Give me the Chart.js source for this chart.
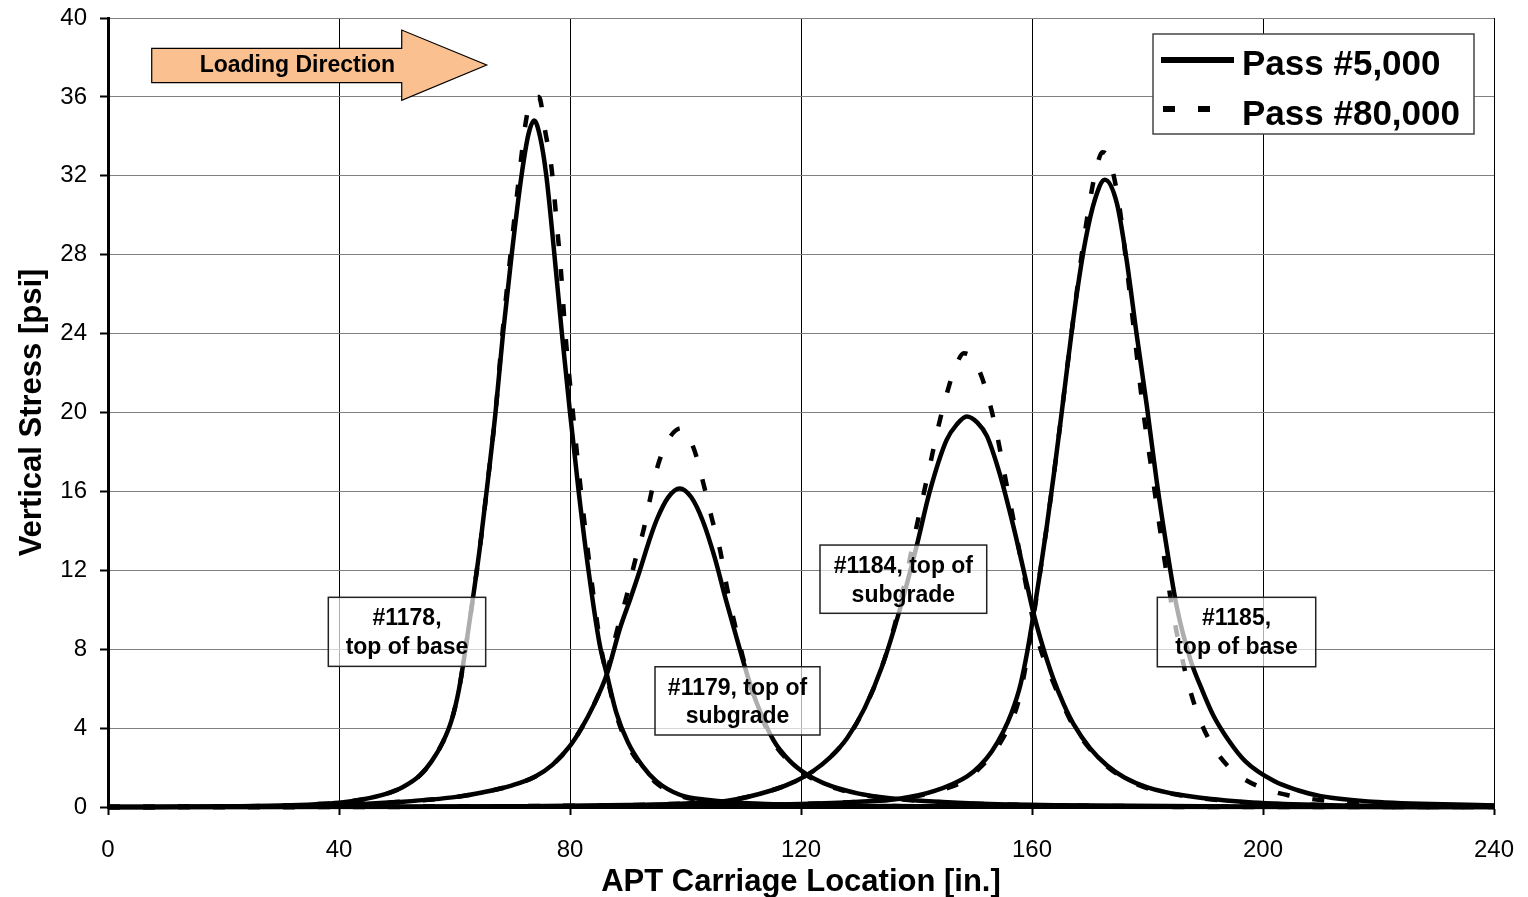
<!DOCTYPE html>
<html>
<head>
<meta charset="utf-8">
<script src="https://cdn.jsdelivr.net/npm/chart.js@4.4.0/dist/chart.umd.min.js"></script>
<style>
html,body{margin:0;padding:0;background:#fff;}
#wrap{width:1528px;height:897px;position:relative;}
</style>
</head>
<body>
<div id="wrap"><canvas id="c" width="1528" height="897"></canvas></div>
<script>
// ---------------- DATA ----------------
const xTickValues = [0, 40, 80, 120, 160, 200, 240];
const yTickValues = [0, 4, 8, 12, 16, 20, 24, 28, 32, 36, 40];
const seriesNames = ['Pass #5,000', 'Pass #80,000'];
const gaugeNotes = [['#1178,', 'top of base'], ['#1179, top of', 'subgrade'], ['#1184, top of', 'subgrade'], ['#1185,', 'top of base']];
const arrowText = 'Loading Direction';

// #1178, top of base
const g1178_5k_x = [0, 20, 30, 36, 40, 44, 48, 51, 54, 56, 58, 59.5, 60.8, 62, 63.2, 64.5, 65.8, 67.1, 68.4, 69.9, 71.6, 72.8, 73.8, 74.8, 75.9, 77.3, 78.6, 80.0, 81.5, 83.2, 85.1, 86.4, 88.0, 90.0, 92.5, 95, 99, 104, 110, 120, 140, 170, 240];
const g1178_5k_y = [0, 0.02, 0.07, 0.14, 0.22, 0.38, 0.65, 1.0, 1.6, 2.3, 3.3, 4.4, 6.0, 8.2, 10.6, 13.4, 16.6, 20.0, 24, 28, 32, 34.1, 34.8, 34.0, 32, 28, 24, 20, 16, 12, 8.3, 6.7, 4.8, 3.3, 2.1, 1.3, 0.62, 0.35, 0.2, 0.1, 0.04, 0.01, 0];
const g1178_80k_x = [0, 20, 30, 36, 40, 44, 48, 51, 54, 56, 58, 59.5, 60.8, 62, 63.2, 64.5, 65.8, 67.1, 68.3, 69.7, 71.2, 72.5, 73.6, 74.6, 75.8, 76.8, 77.7, 78.4, 79.2, 80.5, 81.9, 83.5, 85.3, 86.5, 88.1, 90.1, 92.6, 95, 99, 104, 110, 120, 140, 170, 240];
const g1178_80k_y = [0, 0.02, 0.07, 0.14, 0.22, 0.38, 0.65, 1.0, 1.6, 2.3, 3.3, 4.4, 6.0, 8.2, 10.6, 13.4, 16.6, 20.0, 24, 28, 32, 35.0, 35.9, 36.0, 34.1, 32.4, 29.6, 27.3, 24, 20, 16, 12, 8.2, 6.5, 4.6, 3.1, 2.0, 1.2, 0.57, 0.3, 0.18, 0.09, 0.04, 0.01, 0];

// #1179, top of subgrade
const g1179_5k_x = [0, 20, 40, 50, 60, 65, 70, 74, 77, 80, 82, 84, 86.35, 88.7, 90.5, 92.1, 93.6, 95.0, 97, 99.0, 101, 103, 105, 107, 109.4, 110.9, 112.3, 115.2, 118, 121, 124, 127, 130, 134, 140, 150, 165, 200, 240];
const g1179_5k_y = [0, 0.02, 0.1, 0.25, 0.5, 0.75, 1.1, 1.55, 2.15, 3.1, 4.0, 5.1, 6.7, 9.1, 10.6, 12.0, 13.4, 14.55, 15.7, 16.15, 15.7, 14.5, 12.7, 10.5, 8.0, 6.5, 5.3, 3.4, 2.35, 1.65, 1.2, 0.9, 0.68, 0.5, 0.33, 0.18, 0.09, 0.02, 0];
const g1179_80k_x = [0, 20, 40, 50, 60, 65, 70, 74, 77, 80, 82, 84, 86.35, 88.1, 89.8, 91.2, 92.7, 94.0, 95.3, 97.2, 99.2, 101.4, 103.1, 104.5, 106.0, 107.1, 108.3, 109.7, 111, 112.3, 115.2, 118, 121, 124, 127, 130, 134, 140, 150, 165, 200, 240];
const g1179_80k_y = [0, 0.02, 0.1, 0.25, 0.5, 0.75, 1.1, 1.55, 2.15, 3.1, 4.0, 5.1, 6.8, 8.9, 10.7, 12.4, 14.0, 15.8, 17.4, 18.7, 19.2, 18.2, 16.4, 14.7, 13.0, 11.25, 9.56, 7.87, 6.4, 5.2, 3.3, 2.3, 1.6, 1.15, 0.86, 0.65, 0.48, 0.32, 0.17, 0.08, 0.02, 0];

// #1184, top of subgrade
const g1184_5k_x = [0, 40, 70, 90, 100, 107, 115, 119, 122, 125, 128, 131, 134, 137.1, 140.0, 142.3, 145.2, 147, 148.7, 150.5, 152.2, 154.5, 156.8, 159.1, 160.2, 161.5, 163.7, 165.5, 167.2, 170, 173, 176, 180, 185.6, 197, 210, 240];
const g1184_5k_y = [0, 0.01, 0.04, 0.1, 0.18, 0.3, 0.85, 1.3, 1.8, 2.5, 3.5, 5.0, 7.1, 10.0, 13.2, 16.0, 18.6, 19.4, 19.8, 19.5, 18.8, 16.8, 14.2, 11.3, 9.9, 8.5, 6.5, 5.2, 4.2, 3.0, 2.1, 1.5, 1.0, 0.62, 0.25, 0.1, 0.02];
const g1184_80k_x = [0, 40, 70, 90, 100, 107, 115, 119, 122, 125, 128, 131, 134, 136.2, 138.2, 140.0, 141.4, 142.6, 143.8, 145.2, 146.6, 148.2, 149.6, 151.3, 153.0, 154.2, 155.3, 156.5, 157.6, 158.8, 159.8, 161.1, 162.3, 163.7, 165.5, 167.2, 170, 173, 176, 180, 185.6, 197, 210, 240];
const g1184_80k_y = [0, 0.01, 0.04, 0.1, 0.18, 0.3, 0.85, 1.3, 1.8, 2.5, 3.5, 5.0, 7.1, 9.2, 11.7, 14.2, 16.1, 17.7, 19.3, 20.9, 22.2, 23.0, 22.8, 21.8, 20.1, 18.5, 16.8, 15.0, 13.3, 11.5, 10.0, 8.4, 7.3, 6.3, 5.1, 4.1, 2.95, 2.05, 1.45, 0.95, 0.6, 0.23, 0.1, 0.02];

// #1185, top of base
const g1185_5k_x = [0, 60, 100, 120, 130, 137, 143, 148.7, 151, 153, 155, 156.5, 158, 159.2, 160.2, 161.3, 162.5, 163.8, 165.1, 166.4, 167.8, 169.3, 170.9, 172.6, 174.7, 176.4, 178.1, 179.9, 181.6, 183.3, 185.1, 187.4, 189.5, 191.4, 194, 197, 202, 206, 210, 220, 240];
const g1185_5k_y = [0, 0.01, 0.05, 0.15, 0.27, 0.42, 0.8, 1.54, 2.1, 2.8, 3.8, 4.8, 6.2, 7.9, 9.65, 11.7, 14.1, 16.9, 19.9, 23.0, 26.1, 28.8, 30.8, 31.8, 30.6, 27.7, 24.0, 20.3, 16.5, 13.2, 10.1, 7.5, 5.9, 4.64, 3.4, 2.3, 1.3, 0.85, 0.55, 0.25, 0.08];
const g1185_80k_x = [0, 60, 100, 120, 130, 137, 143, 148.7, 151, 153, 154.8, 156.2, 157.4, 158.5, 159.5, 160.4, 161.4, 162.5, 163.8, 165.1, 166.4, 167.7, 168.9, 169.9, 171, 172.2, 173.3, 174.3, 175.3, 176.4, 177.8, 179.3, 181, 182.5, 183.6, 184.5, 185.8, 187.1, 189.1, 191.7, 194, 196, 200, 204, 208, 215, 240];
const g1185_80k_y = [0, 0.01, 0.05, 0.15, 0.27, 0.42, 0.75, 1.4, 2.0, 2.6, 3.4, 4.2, 5.1, 6.5, 8.2, 9.9, 11.9, 14.1, 16.9, 19.9, 23.0, 26.0, 28.6, 30.5, 32.2, 33.2, 32.9, 31.8, 30.1, 27.4, 23.8, 20.0, 16.5, 13.4, 11.3, 9.7, 7.8, 6.2, 4.4, 2.9, 2.05, 1.55, 0.95, 0.62, 0.42, 0.22, 0.06];

// ---------------- LAYOUT / STYLE ----------------
const FONT = "'Liberation Sans', Arial, Helvetica, sans-serif";
const DASH = [12, 23];
const LINE_W = 4.5;

// annotation boxes, in axis units
const noteBoxes = [
  {x0: 38.15, x1: 65.40, yTop: 10.63, yBot: 7.13},
  {x0: 94.72, x1: 123.29, yTop: 7.11, yBot: 3.65},
  {x0: 123.29, x1: 152.16, yTop: 13.28, yBot: 9.82},
  {x0: 181.70, x1: 209.13, yTop: 10.63, yBot: 7.11}
];
// loading arrow, in axis units
const arrowShape = {x0: 7.57, headX: 50.86, tipX: 65.57, bodyTop: 38.46, bodyBot: 36.72, headTop: 39.39, headBot: 35.83, tipY: 37.62, textX: 32.8, textY: 37.28};

function pts(xs, ys) { return xs.map((v, i) => ({x: v, y: ys[i]})); }

const seriesDefs = [
  [g1178_5k_x, g1178_5k_y, 0], [g1179_5k_x, g1179_5k_y, 0], [g1184_5k_x, g1184_5k_y, 0], [g1185_5k_x, g1185_5k_y, 0],
  [g1178_80k_x, g1178_80k_y, 1], [g1179_80k_x, g1179_80k_y, 1], [g1184_80k_x, g1184_80k_y, 1], [g1185_80k_x, g1185_80k_y, 1]
];

const datasets = seriesDefs.map(([xs, ys, k]) => ({
  label: seriesNames[k],
  data: pts(xs, ys),
  borderColor: '#000',
  backgroundColor: '#000',
  borderWidth: LINE_W,
  borderDash: k === 1 ? DASH : [],
  borderCapStyle: 'butt',
  borderJoinStyle: 'round',
  pointRadius: 0,
  fill: false,
  cubicInterpolationMode: 'monotone',
  clip: false
}));

const overlay = {
  id: 'overlay',
  afterDatasetsDraw(chart) {
    const {ctx, chartArea, scales: {x, y}} = chart;
    const px = v => x.getPixelForValue(v), py = v => y.getPixelForValue(v);
    ctx.save();

    // gauge boxes
    noteBoxes.forEach((b, i) => {
      const l = px(b.x0), r = px(b.x1), t = py(b.yTop), bt = py(b.yBot);
      ctx.fillStyle = 'rgba(255,255,255,0.68)';
      ctx.fillRect(l, t, r - l, bt - t);
      ctx.strokeStyle = '#222';
      ctx.lineWidth = 1.5;
      ctx.strokeRect(l, t, r - l, bt - t);
      ctx.fillStyle = '#000';
      ctx.font = 'bold 23px ' + FONT;
      ctx.textAlign = 'center';
      ctx.textBaseline = 'alphabetic';
      const cx = (l + r) / 2;
      ctx.fillText(gaugeNotes[i][0], cx, t + 28);
      ctx.fillText(gaugeNotes[i][1], cx, t + 56.5);
    });

    // arrow
    const A = arrowShape;
    ctx.beginPath();
    ctx.moveTo(px(A.x0), py(A.bodyTop));
    ctx.lineTo(px(A.headX), py(A.bodyTop));
    ctx.lineTo(px(A.headX), py(A.headTop));
    ctx.lineTo(px(A.tipX), py(A.tipY));
    ctx.lineTo(px(A.headX), py(A.headBot));
    ctx.lineTo(px(A.headX), py(A.bodyBot));
    ctx.lineTo(px(A.x0), py(A.bodyBot));
    ctx.closePath();
    ctx.fillStyle = '#FAC090';
    ctx.fill();
    ctx.strokeStyle = '#000';
    ctx.lineWidth = 1.2;
    ctx.stroke();
    ctx.fillStyle = '#000';
    ctx.font = 'bold 23px ' + FONT;
    ctx.textAlign = 'center';
    ctx.textBaseline = 'alphabetic';
    ctx.fillText(arrowText, px(A.textX), py(A.textY));

    // legend
    const lw = 321, lh = 100;
    const lx = chartArea.right - 20 - lw, ly = chartArea.top + 16;
    ctx.fillStyle = '#fff';
    ctx.fillRect(lx, ly, lw, lh);
    ctx.strokeStyle = '#444';
    ctx.lineWidth = 1.5;
    ctx.strokeRect(lx, ly, lw, lh);
    ctx.strokeStyle = '#000';
    ctx.lineWidth = 6;
    ctx.lineCap = 'butt';
    ctx.beginPath();
    ctx.moveTo(lx + 8, ly + 26); ctx.lineTo(lx + 81, ly + 26);
    ctx.stroke();
    ctx.setLineDash(DASH);
    ctx.beginPath();
    ctx.moveTo(lx + 10, ly + 75); ctx.lineTo(lx + 64, ly + 75);
    ctx.stroke();
    ctx.setLineDash([]);
    ctx.fillStyle = '#000';
    ctx.font = 'bold 35px ' + FONT;
    ctx.textAlign = 'left';
    ctx.textBaseline = 'alphabetic';
    ctx.fillText(seriesNames[0], lx + 89, ly + 41);
    ctx.fillText(seriesNames[1], lx + 89, ly + 91);
    ctx.restore();
  }
};

new Chart(document.getElementById('c'), {
  type: 'line',
  data: {datasets},
  options: {
    responsive: false,
    animation: false,
    devicePixelRatio: 1,
    layout: {padding: {top: 18, right: 34, left: 0, bottom: 0}},
    plugins: {legend: {display: false}, title: {display: false}, tooltip: {enabled: false}},
    scales: {
      x: {
        type: 'linear', min: 0, max: 240,
        afterFit: s => { s.height = 90; s.paddingLeft = 0; s.paddingRight = 0; },
        afterBuildTicks: s => { s.ticks = xTickValues.map(v => ({value: v})); },
        ticks: {color: '#000', font: {family: FONT, size: 24}, padding: 21, maxRotation: 0},
        grid: {color: '#000', lineWidth: 1, drawTicks: true, tickLength: 8, tickColor: '#000', tickWidth: 2},
        border: {color: '#000', width: 3},
        title: {display: true, text: 'APT Carriage Location [in.]', color: '#000', font: {family: FONT, size: 31, weight: 'bold'}, padding: {top: 0, bottom: -4}}
      },
      y: {
        type: 'linear', min: 0, max: 40,
        afterFit: s => { s.width = 108; s.paddingTop = 0; s.paddingBottom = 0; },
        afterBuildTicks: s => { s.ticks = yTickValues.map(v => ({value: v})); },
        ticks: {color: '#000', font: {family: FONT, size: 24}, padding: 13},
        grid: {color: '#808080', lineWidth: 1, drawTicks: true, tickLength: 8, tickColor: '#000', tickWidth: 2},
        border: {color: '#000', width: 3},
        title: {display: true, text: 'Vertical Stress [psi]', color: '#000', font: {family: FONT, size: 31, weight: 'bold'}, padding: {top: 14, bottom: 0}}
      }
    }
  },
  plugins: [overlay]
});
</script>
</body>
</html>
